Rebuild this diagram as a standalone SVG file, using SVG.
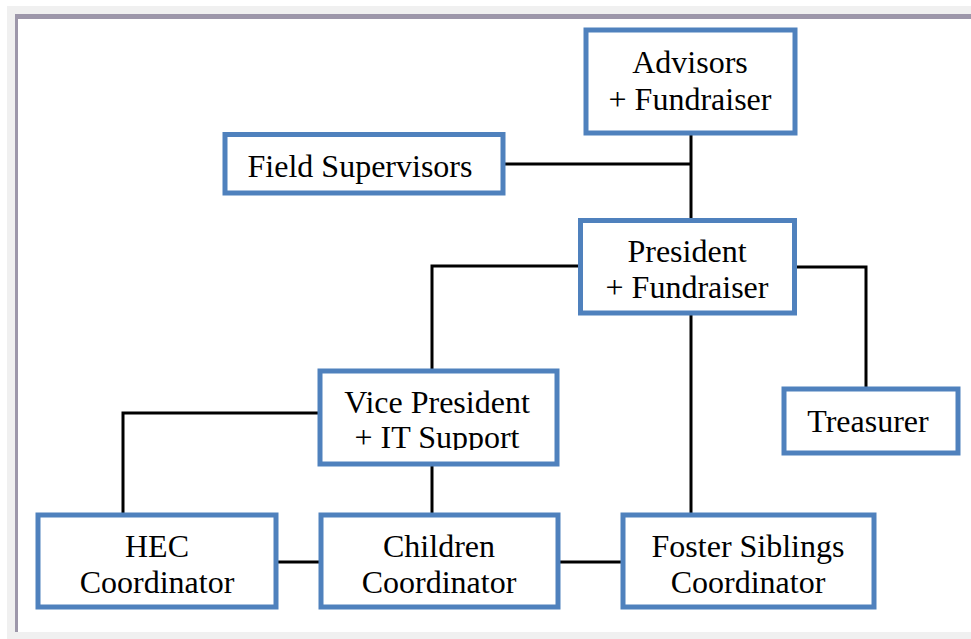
<svg xmlns="http://www.w3.org/2000/svg" width="971" height="639" viewBox="0 0 971 639">
  <style>
    .box { fill: #ffffff; stroke: #4f81bd; stroke-width: 5; }
    .lbl { font-family: "Liberation Serif", "Times New Roman", serif; font-size: 32px; fill: #000000; text-anchor: middle; }
    .wire { fill: none; stroke: #000000; stroke-width: 3; }
  </style>
  <defs>
    <clipPath id="vpClip">
      <rect x="322" y="373" width="233" height="77"/>
    </clipPath>
  </defs>

  <!-- page frame -->
  <rect x="0" y="0" width="971" height="639" fill="#ffffff"/>
  <rect x="7" y="6" width="964" height="633" fill="#f0f0f0"/>
  <rect x="15" y="14" width="956" height="618" fill="#ffffff"/>
  <rect x="15" y="14" width="956" height="5" fill="#9d97aa"/>
  <rect x="15" y="14" width="3" height="618" fill="#9d97aa"/>

  <!-- connectors -->
  <g id="connectors">
    <path class="wire" d="M691 135 V220"/>
    <path class="wire" d="M503 164 H691"/>
    <path class="wire" d="M580 266 H432 V371"/>
    <path class="wire" d="M795 267 H866 V389"/>
    <path class="wire" d="M691 313 V515"/>
    <path class="wire" d="M320 413 H123 V515"/>
    <path class="wire" d="M432 464 V515"/>
    <path class="wire" d="M276 562 H321"/>
    <path class="wire" d="M558 562 H623"/>
  </g>

  <g id="advisors">
    <rect class="box" x="586" y="30" width="209" height="103"/>
    <text class="lbl" x="690" y="73">Advisors</text>
    <text class="lbl" x="690" y="110">+ Fundraiser</text>
  </g>

  <g id="field-supervisors">
    <rect class="box" x="225" y="134.5" width="278" height="58.5"/>
    <text class="lbl" x="360" y="177">Field Supervisors</text>
  </g>

  <g id="president">
    <rect class="box" x="580.5" y="220.5" width="214" height="92.5"/>
    <text class="lbl" x="687" y="262">President</text>
    <text class="lbl" x="687" y="298">+ Fundraiser</text>
  </g>

  <g id="vice-president">
    <rect class="box" x="320" y="371" width="237" height="93"/>
    <g clip-path="url(#vpClip)">
      <text class="lbl" x="437" y="413">Vice President</text>
      <text class="lbl" x="437" y="448">+ IT Support</text>
    </g>
  </g>

  <g id="treasurer">
    <rect class="box" x="784" y="389" width="174" height="64"/>
    <text class="lbl" x="868" y="432">Treasurer</text>
  </g>

  <g id="hec-coordinator">
    <rect class="box" x="38" y="515" width="238" height="92"/>
    <text class="lbl" x="157" y="557">HEC</text>
    <text class="lbl" x="157" y="593">Coordinator</text>
  </g>

  <g id="children-coordinator">
    <rect class="box" x="321" y="515" width="237" height="92"/>
    <text class="lbl" x="439" y="557">Children</text>
    <text class="lbl" x="439" y="593">Coordinator</text>
  </g>

  <g id="foster-siblings-coordinator">
    <rect class="box" x="623" y="515" width="251" height="92"/>
    <text class="lbl" x="748" y="557">Foster Siblings</text>
    <text class="lbl" x="748" y="593">Coordinator</text>
  </g>
</svg>
